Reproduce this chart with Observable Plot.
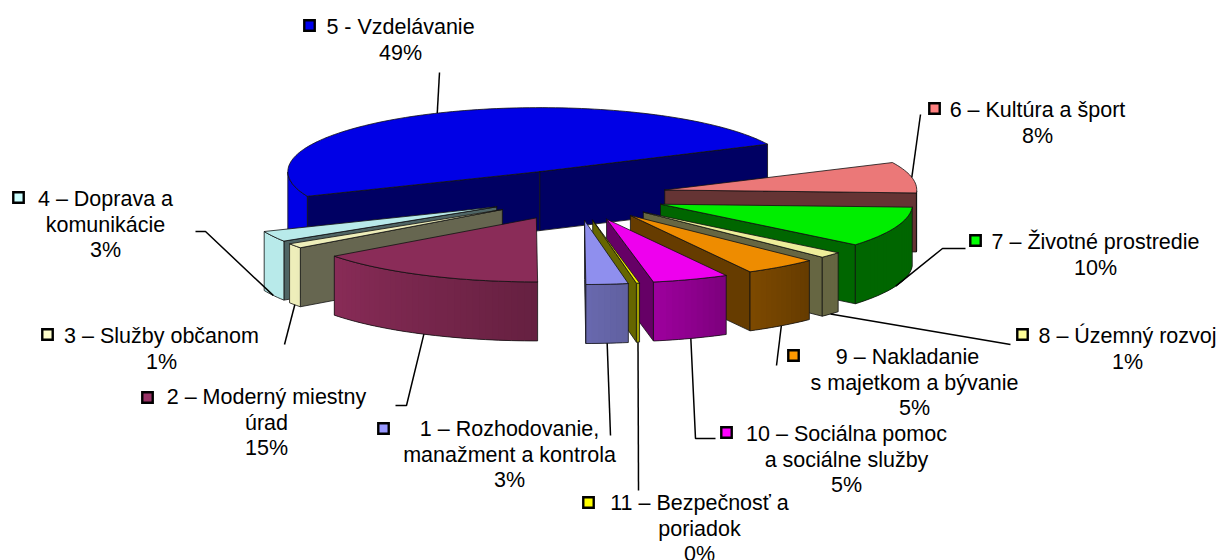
<!DOCTYPE html>
<html><head><meta charset="utf-8">
<script src="https://cdn.jsdelivr.net/npm/d3@7"></script>
<script src="https://cdn.jsdelivr.net/npm/@observablehq/plot@0.6"></script>
<style>html,body{margin:0;padding:0;background:#fff}svg{display:block}</style>
</head><body><div id="chart"></div>
<script>
// Data, in category order 1..11 (clockwise on the pie)
const ids = [1,2,3,4,5,6,7,8,9,10,11];
const shares = [2.7,14.9,1.2,2.7,49.3,7.8,10.2,1.5,4.7,4.9,0.2];
const labelLines = [
  ["1 – Rozhodovanie,","manažment a kontrola","3%"],
  ["2 – Moderný miestny","úrad","15%"],
  ["3 – Služby občanom","1%"],
  ["4 – Doprava a","komunikácie","3%"],
  ["5 - Vzdelávanie","49%"],
  ["6 – Kultúra a šport","8%"],
  ["7 – Životné prostredie","10%"],
  ["8 – Územný rozvoj","1%"],
  ["9 – Nakladanie","s majetkom a bývanie","5%"],
  ["10 – Sociálna pomoc","a sociálne služby","5%"],
  ["11 – Bezpečnosť a","poriadok","0%"]
];
// Styles
const topColors = ["#8f8fee","#8a2c58","#eeeeba","#b8eaea","#0000e6","#eb7878","#00ee00","#eeee9a","#ee8c00","#ee00ee","#eeee00"];
const keyColors = ["#9999ff","#993366","#ffffcc","#ccffff","#0000ee","#ff8080","#00ff00","#ffff99","#ff9900","#ff00ff","#ffff00"];
// Layout
const pieCenter = [576,194.5], radius = [252,64], explode = [90,25.6], depth = 59, firstAngle = -80;
const drawOrder = [5,6,7,8,9,10,4,3,2,11,1];
const textCenterX = [509,266,161,105,400,1037,1095,1127,914,846,699];
const textCenterXFirst = [509,266,161,105,400,1037,1095,1127,907,846,699];
const textFirstY = [429,397,336,199,27,110,242,336,357,434,503];
const keyPos = [[383,428],[147,397],[47,334],[18,197],[309,25],[934,108],[975,240],[1022,334],[793,355],[726,432],[588,502]];
const leaderEnds = [
  [[610,435]],
  [[406,405],[395,405]],
  [[284,344]],
  [[205,231],[195,231]],
  [[439,72]],
  [[920,114]],
  [[942,248],[965,248]],
  [[1010,344]],
  [[776,365]],
  [[695,438],[715,438]],
  [[638,490]]
];
const rad = Math.PI/180;
const total = d3.sum(shares);
const shade = d3.scaleLinear().domain([-180,-145,-90,-79,-62,-45,0,180]).range([1,1,.74,.67,.53,.43,.43,.43]).clamp(true);
function darker(hex,f){const c=d3.rgb(hex);return d3.rgb(c.r*f,c.g*f,c.b*f).formatHex();}
let a0 = firstAngle;
const slices = shares.map((s,i)=>{
  const sweep = s/total*360, from = a0, to = a0 - sweep; a0 = to;
  const mid = (from+to)/2;
  const cx = pieCenter[0]+explode[0]*Math.cos(mid*rad);
  const cy = pieCenter[1]-explode[1]*Math.sin(mid*rad);
  const pt = t=>[cx+radius[0]*Math.cos(t*rad), cy-radius[1]*Math.sin(t*rad)];
  return {i,from,to,mid,cx,cy,pt};
});
function norm(t){ return ((t+180)%360+360)%360-180; }
const rows=[]; let pid=0;
function poly(pts,fill,stroke,sw){ const id=pid++; pts.forEach(p=>rows.push({id,x:p[0],y:p[1],fill,stroke,sw})); }
const down=p=>[p[0],p[1]+depth];
for(const n of drawOrder){
  const s=slices[n-1], col=topColors[s.i];
  const N=Math.max(2,Math.ceil((s.from-s.to)/1.5));
  const ts=d3.range(N+1).map(k=>s.from+(s.to-s.from)*k/N);
  const arc=ts.map(s.pt);
  const apex=[s.cx,s.cy];
  const pA=s.pt(s.from), pB=s.pt(s.to);
  const above=(p,o)=>(p[0]-apex[0])*(o[1]-apex[1])-(p[1]-apex[1])*(o[0]-apex[0]);
  const midPt=s.pt(s.mid);
  const faceCol=darker(col,.43);
  if(above(pA,midPt)*(pA[0]-apex[0])<0) poly([apex,pA,down(pA),down(apex),apex],faceCol,"#111",.8);
  if(above(pB,midPt)*(pB[0]-apex[0])<0) poly([apex,pB,down(pB),down(apex),apex],faceCol,"#111",.8);
  const front=ts.filter(t=>Math.sin(t*rad)<=0.001);
  if(front.length>1){
    // overlapping strips, painted in order, leave no seams
    for(let k=0;k<front.length-1;k++){
      const a=s.pt(front[k]),b=s.pt(front[Math.min(k+2,front.length-1)]);
      const f=darker(col,shade(norm(front[k])));
      poly([a,s.pt(front[k+1]),b,down(b),down(s.pt(front[k+1])),down(a),a],f,"none",0);
    }
    const fa=front.map(s.pt);
    poly([...fa,...fa.slice().reverse().map(down),fa[0]],"none","#111",.8);
  }
  poly([apex,...arc,apex],col,"#111",.8);
}
const leaderRows=[];
slices.forEach(s=>{
  const p=s.pt(s.mid); const start=Math.sin(s.mid*rad)<0?down(p):p;
  [start,...leaderEnds[s.i]].forEach(q=>leaderRows.push({id:s.i,x:q[0],y:q[1]}));
});
const textRows=labelLines.flatMap((ls,i)=>ls.map((t,j)=>({t,x:j==0?textCenterXFirst[i]:textCenterX[i],y:textFirstY[i]+j*25.4})));
const keys=ids.map((id,i)=>({id,x:keyPos[i][0],y:keyPos[i][1],fill:keyColors[i]}));
const chart=Plot.plot({
  width:1219,height:560,margin:0,
  style:{background:"#fff",fontFamily:"'Liberation Sans',Arial,sans-serif"},
  x:{domain:[0,1219],range:[0,1219],axis:null},
  y:{domain:[0,560],range:[0,560],axis:null},
  color:{type:"identity"},
  marks:[
    Plot.line(rows,{x:"x",y:"y",z:"id",fill:"fill",stroke:"stroke",strokeWidth:d=>d.sw,curve:"linear"}),
    Plot.line(leaderRows,{x:"x",y:"y",z:"id",stroke:"#000",strokeWidth:1.5,strokeLinecap:"butt",strokeLinejoin:"miter",curve:"linear"}),
    Plot.dot(keys,{x:"x",y:"y",symbol:"square",r:5.9,fill:"fill",stroke:"#000",strokeWidth:2.4}),
    Plot.text(textRows,{x:"x",y:"y",text:"t",fontSize:21.5,fill:"#000",textAnchor:"middle",lineAnchor:"middle"})
  ]
});
document.getElementById("chart").appendChild(chart);
</script></body></html>
